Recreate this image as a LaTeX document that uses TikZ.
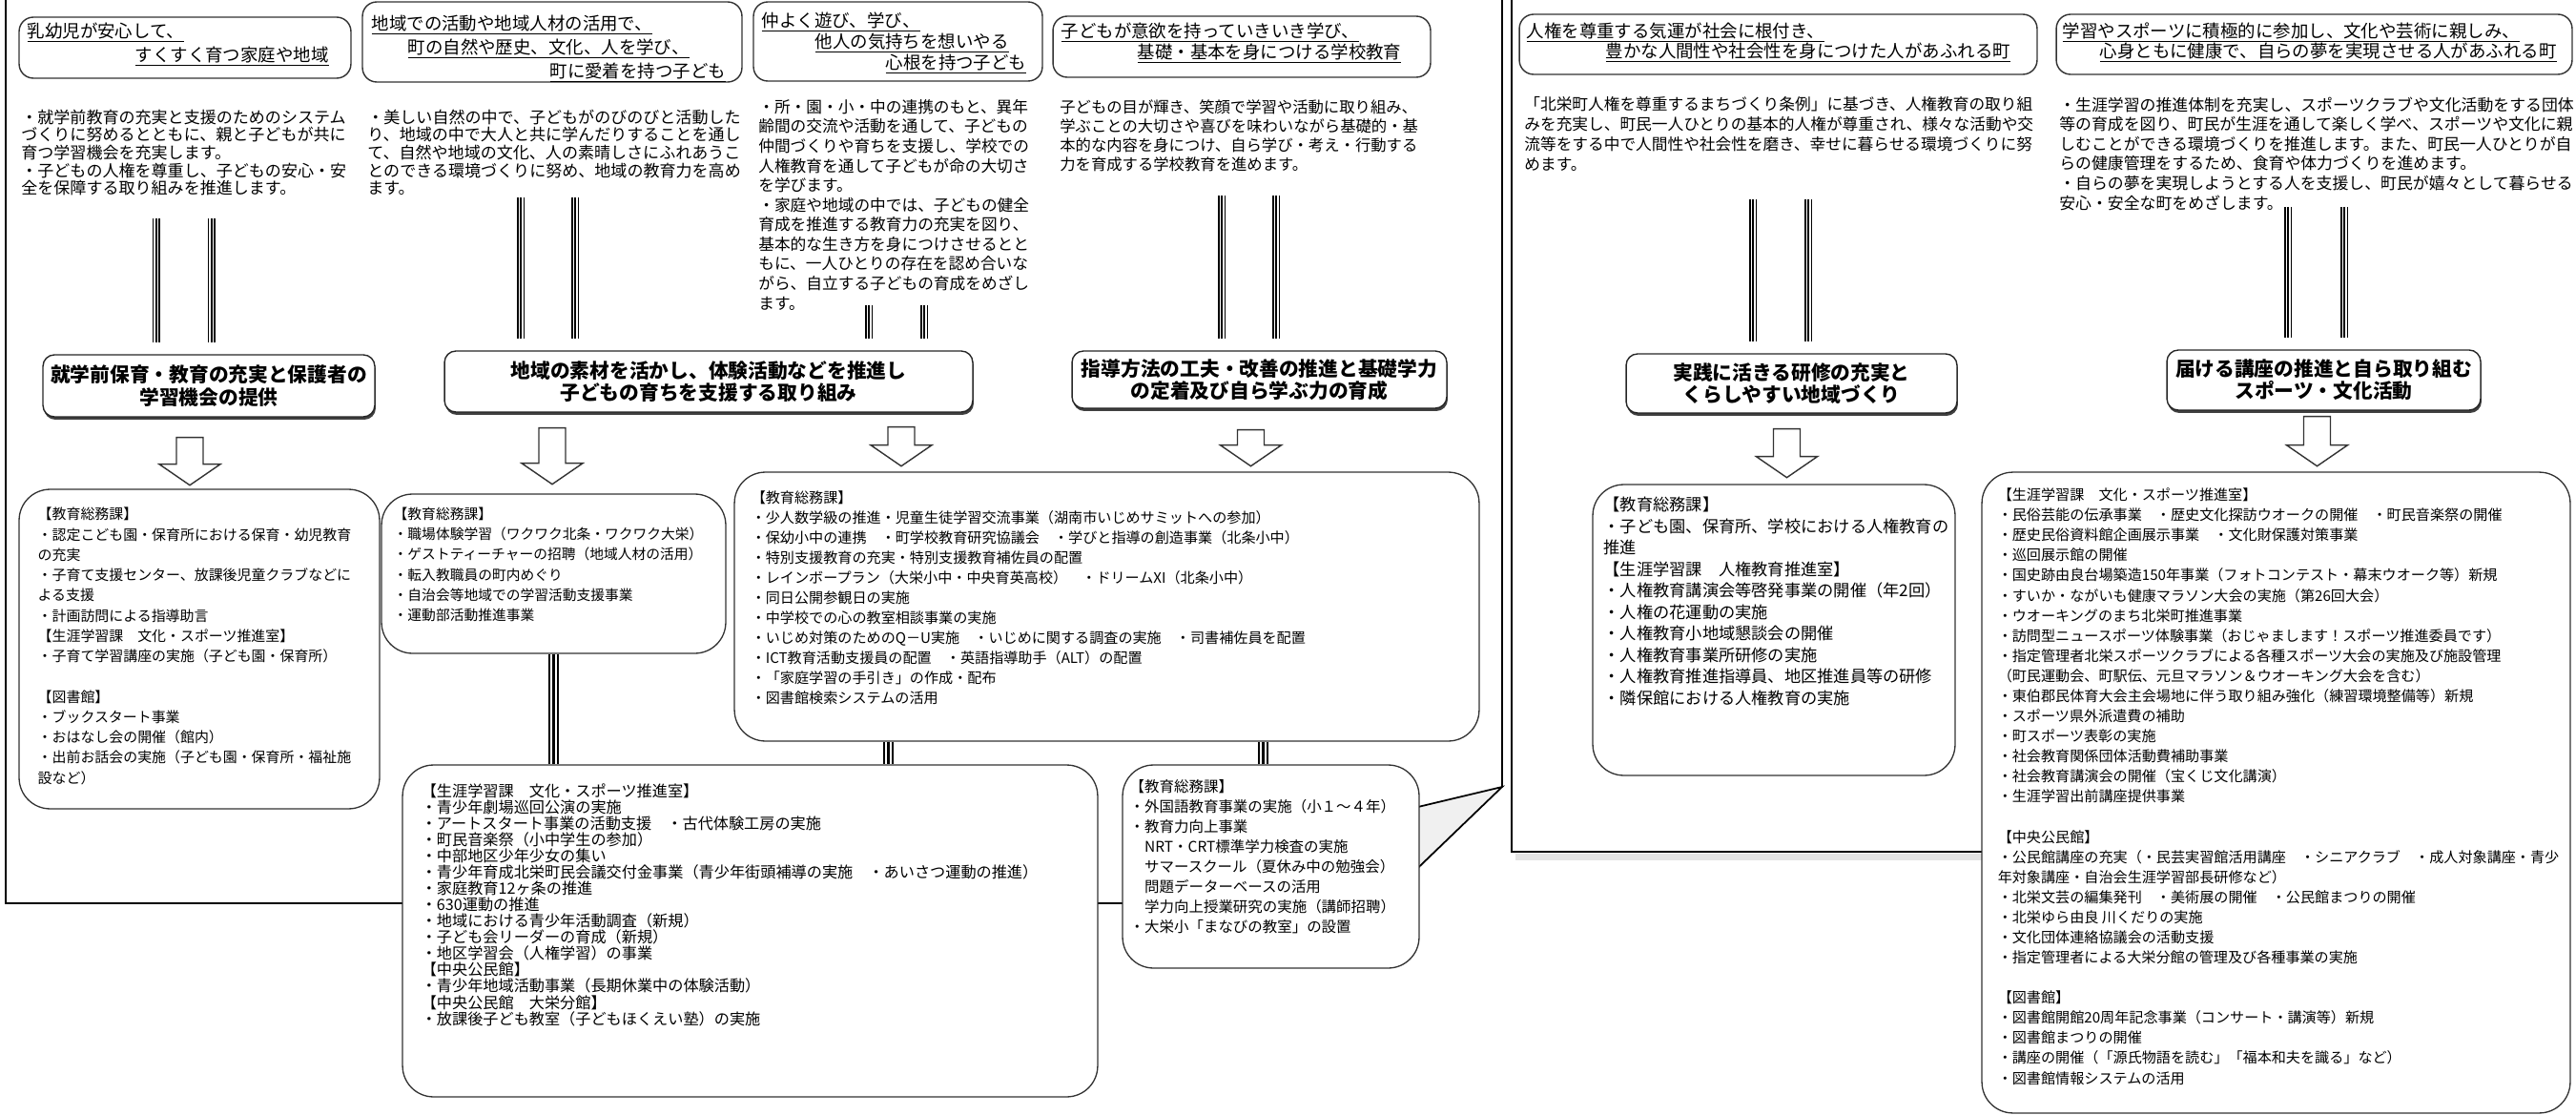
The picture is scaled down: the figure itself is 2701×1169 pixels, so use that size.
\documentclass[tikz,border=0pt]{standalone}
\usepackage{fontspec}
\setmainfont{Noto Sans CJK JP}
\usetikzlibrary{calc,shadows}
\newcommand{\jfs}[2]{\fontsize{#1}{#2}\selectfont\lineskiplimit=-30pt\relax}

\begin{document}
\begin{tikzpicture}[x=0.02cm,y=-0.02cm,
  frame/.style={line width=1.4pt},
  headbox/.style={draw=black!80, line width=0.8pt, rounded corners=3mm, fill=white, inner sep=0pt},
  headtext/.style={anchor=north west, inner sep=0pt, align=left},
  keybox/.style={draw=black!85, line width=0.8pt, rounded corners=2.4mm, fill=white, align=center, inner sep=0pt,
    font=\bfseries\jfs{11.8}{13.2}, drop shadow={shadow xshift=0.2mm, shadow yshift=-0.6mm, fill=black!75, opacity=1}},
  plaintext/.style={anchor=north west, inner sep=0pt, align=left},
  listbox/.style={draw=black!80, line width=0.75pt, rounded corners=6.5mm, fill=white, inner sep=0pt},
  tline/.style={line width=4.4pt, postaction={draw=white, line width=2.8pt}, postaction={draw=black, line width=1.1pt}},
  tlinewide/.style={line width=6.6pt, postaction={draw=white, line width=4.4pt}, postaction={draw=black, line width=1.8pt}},
  hollow/.style={draw=black!80, line width=0.8pt, fill=white},
  pics/harrow/.style={code={\draw[hollow] (-14,0) -- (-14,#1-22) -- (-32,#1-22) -- (0,#1) -- (32,#1-22) -- (14,#1-22) -- (14,0) -- cycle;}}]
\useasboundingbox (0,0) rectangle (2701,1169);

\fill[gray!12] (1488,846) -- (1575,825) -- (1488,911) -- cycle;
\fill[gray!22] (1589,895) rectangle (2100,902);
\draw[frame] (6,-5) -- (6,947) -- (1300,947);
\draw[frame] (1575,-5) -- (1575,825);
\draw[line width=1pt] (1470,850) -- (1575,825) -- (1470,926);
\draw[frame] (1585,-5) -- (1585,893) -- (2200,893);

\node[headbox, minimum width=69.6mm, minimum height=12.8mm] (h1) at (194,50) {};
\node[headtext, font=\jfs{10.5}{14.2}] (h1t) at ([shift={(9,6)}]h1.north west)
  {\underline{乳幼児が安心して、}\\\hspace*{22.6mm}\underline{すくすく育つ家庭や地域}};
\node[headbox, minimum width=79.6mm, minimum height=16.8mm] (h2) at (579,44) {};
\node[headtext, font=\jfs{10.5}{14.2}] (h2t) at ([shift={(10,14)}]h2.north west)
  {\underline{地域での活動や地域人材の活用で、}\\\hspace*{7.6mm}\underline{町の自然や歴史、文化、人を学び、}\\\hspace*{37.4mm}\underline{町に愛着を持つ子ども}};
\node[headbox, minimum width=60.6mm, minimum height=16.6mm] (h3) at (941.5,43.5) {};
\node[headtext, font=\jfs{10.5}{12.5}] (h3t) at ([shift={(9,11)}]h3.north west)
  {\underline{仲よく遊び、学び、}\\\hspace*{11.2mm}\underline{他人の気持ちを想いやる}\\\hspace*{26mm}\underline{心根を持つ子ども}};
\node[headbox, minimum width=79.2mm, minimum height=12.8mm] (h4) at (1302,49) {};
\node[headtext, font=\jfs{10.5}{12.5}] (h4t) at ([shift={(9,7)}]h4.north west)
  {\underline{子どもが意欲を持っていきいき学び、}\\\hspace*{16mm}\underline{基礎・基本を身につける学校教育}};
\node[headbox, minimum width=108.6mm, minimum height=12.6mm] (h5) at (1864.5,46.5) {};
\node[headtext, font=\jfs{10.5}{12}] (h5t) at ([shift={(8,9)}]h5.north west)
  {\underline{人権を尊重する気運が社会に根付き、}\\\hspace*{16.6mm}\underline{豊かな人間性や社会性を身につけた人があふれる町}};
\node[headbox, minimum width=108.2mm, minimum height=12.6mm] (h6) at (2426.5,46.5) {};
\node[headtext, font=\jfs{10.5}{12}] (h6t) at ([shift={(7,9)}]h6.north west)
  {\underline{学習やスポーツに積極的に参加し、文化や芸術に親しみ、}\\\hspace*{7.8mm}\underline{心身ともに健康で、自らの夢を実現させる人があふれる町}};

\node[plaintext, font=\jfs{9.7}{10.6}] (t1) at (22,114.5)
  {・就学前教育の充実と支援のためのシステム\\づくりに努めるとともに、親と子どもが共に\\育つ学習機会を充実します。\\・子どもの人権を尊重し、子どもの安心・安\\全を保障する取り組みを推進します。};
\node[plaintext, font=\jfs{9.7}{10.6}] (t2) at (385,114.5)
  {・美しい自然の中で、子どもがのびのびと活動した\\り、地域の中で大人と共に学んだりすることを通し\\て、自然や地域の文化、人の素晴しさにふれあうこ\\とのできる環境づくりに努め、地域の教育力を高め\\ます。};
\node[plaintext, font=\jfs{9.5}{11.7}] (t3) at (795,104)
  {・所・園・小・中の連携のもと、異年\\齢間の交流や活動を通して、子どもの\\仲間づくりや育ちを支援し、学校での\\人権教育を通して子どもが命の大切さ\\を学びます。\\・家庭や地域の中では、子どもの健全\\育成を推進する教育力の充実を図り、\\基本的な生き方を身につけさせるとと\\もに、一人ひとりの存在を認め合いな\\がら、自立する子どもの育成をめざし\\ます。};
\node[plaintext, font=\jfs{9.3}{11.4}] (t4) at (1111,104)
  {子どもの目が輝き、笑顔で学習や活動に取り組み、\\学ぶことの大切さや喜びを味わいながら基礎的・基\\本的な内容を身につけ、自ら学び・考え・行動する\\力を育成する学校教育を進めます。};
\node[plaintext, font=\jfs{9.5}{11.8}] (t5) at (1598,101.5)
  {「北栄町人権を尊重するまちづくり条例」に基づき、人権教育の取り組\\みを充実し、町民一人ひとりの基本的人権が尊重され、様々な活動や交\\流等をする中で人間性や社会性を磨き、幸せに暮らせる環境づくりに努\\めます。};
\node[plaintext, font=\jfs{9.6}{11.7}] (t6) at (2159,101.5)
  {・生涯学習の推進体制を充実し、スポーツクラブや文化活動をする団体\\等の育成を図り、町民が生涯を通して楽しく学べ、スポーツや文化に親\\しむことができる環境づくりを推進します。また、町民一人ひとりが自\\らの健康管理をするため、食育や体力づくりを進めます。\\・自らの夢を実現しようとする人を支援し、町民が嬉々として暮らせる\\安心・安全な町をめざします。};

\node[keybox, minimum width=69.6mm, minimum height=13mm] (boxA) at (219,404.5)
  {就学前保育・教育の充実と保護者の\\学習機会の提供};
\node[keybox, minimum width=110.8mm, minimum height=12.8mm] (boxB) at (743,400)
  {地域の素材を活かし、体験活動などを推進し\\子どもの育ちを支援する取り組み};
\node[keybox, minimum width=78.6mm, minimum height=12mm] (boxC) at (1320.5,398)
  {指導方法の工夫・改善の推進と基礎学力\\の定着及び自ら学ぶ力の育成};
\node[keybox, minimum width=69.4mm, minimum height=12.4mm] (boxG) at (1878.5,402)
  {実践に活きる研修の充実と\\くらしやすい地域づくり};
\node[keybox, minimum width=65.8mm, minimum height=12.6mm] (boxH) at (2436.5,398.5)
  {届ける講座の推進と自ら取り組む\\スポーツ・文化活動};

\node[listbox, minimum width=75.6mm, minimum height=67mm] (boxD) at (209,680.5) {};
\node[plaintext, font=\jfs{8.5}{12.1}] (boxDt) at ([shift={(20,19.5)}]boxD.north west)
  {【教育総務課】\\・認定こども園・保育所における保育・幼児教育\\の充実\\・子育て支援センター、放課後児童クラブなどに\\よる支援\\・計画訪問による指導助言\\【生涯学習課　文化・スポーツ推進室】\\・子育て学習講座の実施（子ども園・保育所）\\[12.1pt]【図書館】\\・ブックスタート事業\\・おはなし会の開催（館内）\\・出前お話会の実施（子ども園・保育所・福祉施\\設など）};
\node[listbox, minimum width=72.2mm, minimum height=33.4mm] (boxE) at (580.5,601.5) {};
\node[plaintext, font=\jfs{8.4}{12}] (boxEt) at ([shift={(13,14.6)}]boxE.north west)
  {【教育総務課】\\・職場体験学習（ワクワク北条・ワクワク大栄）\\・ゲストティーチャーの招聘（地域人材の活用）\\・転入教職員の町内めぐり\\・自治会等地域での学習活動支援事業\\・運動部活動推進事業};
\node[listbox, minimum width=156.2mm, minimum height=56.4mm] (boxF) at (1160.5,636) {};
\node[plaintext, font=\jfs{8.6}{12}] (boxFt) at ([shift={(18,19.5)}]boxF.north west)
  {【教育総務課】\\・少人数学級の推進・児童生徒学習交流事業（湖南市いじめサミットへの参加）\\・保幼小中の連携　・町学校教育研究協議会　・学びと指導の創造事業（北条小中）\\・特別支援教育の充実・特別支援教育補佐員の配置\\・レインボープラン（大栄小中・中央育英高校）　・ドリームXI（北条小中）\\・同日公開参観日の実施\\・中学校での心の教室相談事業の実施\\・いじめ対策のためのQ－U実施　・いじめに関する調査の実施　・司書補佐員を配置\\・ICT教育活動支援員の配置　・英語指導助手（ALT）の配置\\・「家庭学習の手引き」の作成・配布\\・図書館検索システムの活用};
\node[listbox, minimum width=145.8mm, minimum height=69.6mm] (boxI) at (786.5,976) {};
\node[plaintext, font=\jfs{9.2}{9.7}] (boxIt) at ([shift={(20,20)}]boxI.north west)
  {【生涯学習課　文化・スポーツ推進室】\\・青少年劇場巡回公演の実施\\・アートスタート事業の活動支援　・古代体験工房の実施\\・町民音楽祭（小中学生の参加）\\・中部地区少年少女の集い\\・青少年育成北栄町民会議交付金事業（青少年街頭補導の実施　・あいさつ運動の推進）\\・家庭教育12ヶ条の推進\\・630運動の推進\\・地域における青少年活動調査（新規）\\・子ども会リーダーの育成（新規）\\・地区学習会（人権学習）の事業\\【中央公民館】\\・青少年地域活動事業（長期休業中の体験活動）\\【中央公民館　大栄分館】\\・放課後子ども教室（子どもほくえい塾）の実施};
\node[listbox, minimum width=62.2mm, minimum height=42.6mm] (boxJ) at (1332.5,908.5) {};
\node[plaintext, font=\jfs{8.8}{12}] (boxJt) at ([shift={(8,15.6)}]boxJ.north west)
  {【教育総務課】\\・外国語教育事業の実施（小１～４年）\\・教育力向上事業\\　NRT・CRT標準学力検査の実施\\　サマースクール（夏休み中の勉強会）\\　問題データーベースの活用\\　学力向上授業研究の実施（講師招聘）\\・大栄小「まなびの教室」の設置};
\node[listbox, minimum width=76mm, minimum height=61mm] (boxK) at (1860,660.5) {};
\node[plaintext, font=\jfs{9.8}{12.8}] (boxKt) at ([shift={(12,13.5)}]boxK.north west)
  {【教育総務課】\\・子ども園、保育所、学校における人権教育の\\推進\\【生涯学習課　人権教育推進室】\\・人権教育講演会等啓発事業の開催（年2回）\\・人権の花運動の実施\\・人権教育小地域懇談会の開催\\・人権教育事業所研修の実施\\・人権教育推進指導員、地区推進員等の研修\\・隣保館における人権教育の実施};
\node[listbox, minimum width=123.4mm, minimum height=134.4mm] (boxL) at (2386.5,831) {};
\node[plaintext, font=\jfs{8.6}{12}] (boxLt) at ([shift={(17,17)}]boxL.north west)
  {【生涯学習課　文化・スポーツ推進室】\\・民俗芸能の伝承事業　・歴史文化探訪ウオークの開催　・町民音楽祭の開催\\・歴史民俗資料館企画展示事業　・文化財保護対策事業\\・巡回展示館の開催\\・国史跡由良台場築造150年事業（フォトコンテスト・幕末ウオーク等）新規\\・すいか・ながいも健康マラソン大会の実施（第26回大会）\\・ウオーキングのまち北栄町推進事業\\・訪問型ニュースポーツ体験事業（おじゃまします！スポーツ推進委員です）\\・指定管理者北栄スポーツクラブによる各種スポーツ大会の実施及び施設管理\\（町民運動会、町駅伝、元旦マラソン＆ウオーキング大会を含む）\\・東伯郡民体育大会主会場地に伴う取り組み強化（練習環境整備等）新規\\・スポーツ県外派遣費の補助\\・町スポーツ表彰の実施\\・社会教育関係団体活動費補助事業\\・社会教育講演会の開催（宝くじ文化講演）\\・生涯学習出前講座提供事業\\[12pt]【中央公民館】\\・公民館講座の充実（・民芸実習館活用講座　・シニアクラブ　・成人対象講座・青少\\年対象講座・自治会生涯学習部長研修など）\\・北栄文芸の編集発刊　・美術展の開催　・公民館まつりの開催\\・北栄ゆら由良 川くだりの実施\\・文化団体連絡協議会の活動支援\\・指定管理者による大栄分館の管理及び各種事業の実施\\[12pt]【図書館】\\・図書館開館20周年記念事業（コンサート・講演等）新規\\・図書館まつりの開催\\・講座の開催（「源氏物語を読む」「福本和夫を識る」など）\\・図書館情報システムの活用};

\draw[tline] ($(t1.south)+(-29,24)$) -- ($(t1.south |- boxA.north)+(-29,-12)$);
\draw[tline] ($(t1.south)+(29,24)$) -- ($(t1.south |- boxA.north)+(29,-12)$);
\draw[tline] ($(t2.south)+(-35,2)$) -- ($(t2.south |- boxB.north)+(-35,-12)$);
\draw[tline] ($(t2.south)+(22,2)$) -- ($(t2.south |- boxB.north)+(22,-12)$);
\draw[tline] ($(t3.south)+(-26,-5)$) -- ($(t3.south |- boxB.north)+(-26,-12)$);
\draw[tline] ($(t3.south)+(32,-5)$) -- ($(t3.south |- boxB.north)+(32,-12)$);
\draw[tline] ($(t4.south)+(-18,25)$) -- ($(t4.south |- boxC.north)+(-18,-12)$);
\draw[tline] ($(t4.south)+(39,25)$) -- ($(t4.south |- boxC.north)+(39,-12)$);
\draw[tline] ($(t5.south)+(-27,29)$) -- ($(t5.south |- boxG.north)+(-27,-12)$);
\draw[tline] ($(t5.south)+(31,29)$) -- ($(t5.south |- boxG.north)+(31,-12)$);
\draw[tline] ($(t6.south)+(-30,-4)$) -- ($(t6.south |- boxH.north)+(-30,-12)$);
\draw[tline] ($(t6.south)+(29,-4)$) -- ($(t6.south |- boxH.north)+(29,-12)$);

\pic at ([shift={(-20,21)}]boxA.south) {harrow=50};
\pic at ([shift={(-164,16)}]boxB.south) {harrow=59};
\pic at ([shift={(202,15)}]boxB.south) {harrow=41};
\pic at ([shift={(-9,22)}]boxC.south) {harrow=38};
\pic at ([shift={(-5,16)}]boxG.south) {harrow=51};
\pic at ([shift={(-7,6)}]boxH.south) {harrow=52};

\draw[tlinewide] (boxE.south) -- (boxE.south |- boxI.north);
\draw[tlinewide] ($(boxF.south)+(-229,0)$) -- ($(boxF.south |- boxI.north)+(-229,0)$);
\draw[tlinewide] ($(boxJ.north)+(-8,0)$) -- ($(boxJ.north |- boxF.south)+(-8,0)$);
\end{tikzpicture}
\end{document}
